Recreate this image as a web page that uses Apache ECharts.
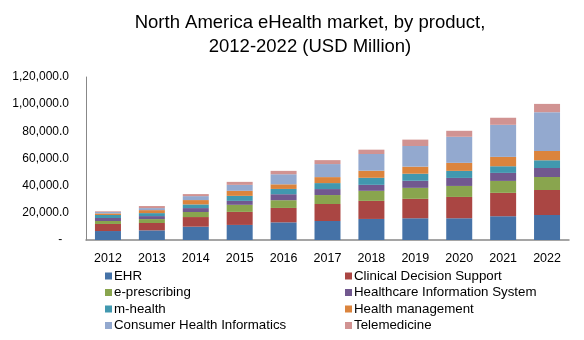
<!DOCTYPE html>
<html>
<head>
<meta charset="utf-8">
<script src="https://cdn.jsdelivr.net/npm/echarts@6/dist/echarts.min.js"></script>
<style>html,body{margin:0;padding:0;background:#fff}#c{width:584px;height:340px}</style>
</head>
<body>
<div id="c"></div>
<script>
var years = ['2012','2013','2014','2015','2016','2017','2018','2019','2020','2021','2022'];
var ehr = [6600, 7100, 9800, 11100, 13000, 14000, 15500, 16000, 16000, 17500, 18400];
var cds = [5200, 5400, 7100, 9600, 10600, 12500, 13300, 14300, 15700, 17200, 18400];
var eprescribing = [2200, 2900, 3700, 5200, 5700, 6600, 7400, 8100, 8100, 8800, 9600];
var his = [2200, 2200, 2900, 2900, 4400, 4400, 4400, 5200, 5900, 5900, 6600];
var mhealth = [2200, 2200, 2700, 3700, 3900, 4400, 5200, 5200, 5200, 4900, 5700];
var healthMgmt = [1200, 2200, 3200, 3700, 3400, 4400, 5200, 5200, 5900, 6900, 6900];
var chi = [1000, 1500, 2900, 4400, 7400, 9600, 12300, 15200, 19200, 23600, 28500];
var telemedicine = [500, 1500, 1500, 2200, 2500, 2900, 3200, 4700, 4400, 5200, 6100];
var yTicks = [0, 20000, 40000, 60000, 80000, 100000, 120000];

var names = ['EHR','Clinical Decision Support','e-prescribing','Healthcare Information System','m-health','Health management','Consumer Health Informatics','Telemedicine'];
var datas = [ehr, cds, eprescribing, his, mhealth, healthMgmt, chi, telemedicine];
var colors = ['#4572A7','#AA4643','#89A54E','#71588F','#4198AF','#DB843D','#93A9CF','#D19392'];

function fmt(v){
  if (v === 0) return '-  ';
  var s = String(Math.round(v));
  var last3 = s.slice(-3), rest = s.slice(0, -3);
  if (rest.length) {
    rest = rest.replace(/\B(?=(\d{2})+(?!\d))/g, ',');
    s = rest + ',' + last3;
  } else s = last3;
  return s + '.0';
}

var series = names.map(function(n, i){
  return {name: n, type: 'bar', stack: 'a', data: datas[i], barWidth: 26,
    itemStyle: {color: colors[i]}, emphasis: {disabled: true}};
});

var font = 'Liberation Sans, Arial, sans-serif';
var legendText = {fontFamily: font, fontSize: 13.3, color: '#000', lineHeight: 14, padding: [0,0,0,-3]};
var chart = echarts.init(document.getElementById('c'));
chart.setOption({
  animation: false,
  color: colors,
  textStyle: {fontFamily: font},
  title: {
    text: 'North America eHealth market, by product,\n2012-2022 (USD Million)',
    left: 305, textAlign: 'center', top: 6,
    textStyle: {fontFamily: font, fontSize: 18.5, fontWeight: 'normal', color: '#000', lineHeight: 24}
  },
  legend: [
    {data: [names[0], names[2], names[4], names[6]], orient: 'vertical', left: 100, top: 264,
      itemWidth: 7, itemHeight: 7, itemGap: 2.5, icon: 'rect', textStyle: legendText},
    {data: [names[1], names[3], names[5], names[7]], orient: 'vertical', left: 340, top: 264,
      itemWidth: 7, itemHeight: 7, itemGap: 2.5, icon: 'rect', textStyle: legendText}
  ],
  grid: {left: 86, right: 15, top: 77, bottom: 100, containLabel: false},
  xAxis: {
    type: 'category', data: years,
    axisLine: {lineStyle: {color: '#888', width: 1.5}},
    axisTick: {show: false},
    axisLabel: {fontFamily: font, fontSize: 12.5, color: '#000', margin: 12}
  },
  yAxis: {
    type: 'value', min: yTicks[0], max: yTicks[yTicks.length-1], interval: 20000,
    axisLine: {show: true, lineStyle: {color: '#888', width: 1}},
    axisTick: {show: false},
    splitLine: {show: false},
    axisLabel: {fontFamily: font, fontSize: 12, color: '#000', margin: 17, formatter: fmt}
  },
  series: series
});
</script>
</body>
</html>
